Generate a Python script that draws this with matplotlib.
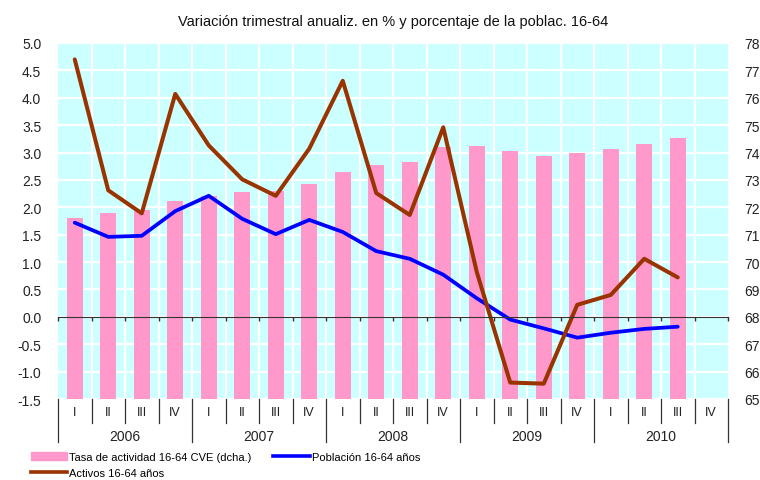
import matplotlib
matplotlib.use('Agg')
import matplotlib.pyplot as plt
import matplotlib.transforms as mtransforms
from matplotlib.patches import Patch
from matplotlib.lines import Line2D
import numpy as np

plt.rcParams['font.family'] = ['Liberation Sans', 'DejaVu Sans']

# data
years = ['2006', '2007', '2008', '2009', '2010']
quarters = ['I', 'II', 'III', 'IV'] * 5
tasa = [71.6, 71.8, 71.9, 72.24, 72.4, 72.55, 72.6, 72.86, 73.3, 73.55,
        73.66, 74.2, 74.24, 74.06, 73.88, 73.98, 74.14, 74.32, 74.54]
poblacion = [1.72, 1.46, 1.48, 1.93, 2.21, 1.79, 1.51, 1.77, 1.55, 1.20,
             1.06, 0.77, 0.34, -0.05, -0.21, -0.38, -0.29, -0.22, -0.18]
activos = [4.70, 2.31, 1.89, 4.07, 3.13, 2.51, 2.21, 3.07, 4.31, 2.26,
           1.86, 3.46, 0.82, -1.20, -1.22, 0.22, 0.40, 1.06, 0.72]
left_ticks = np.arange(-1.5, 5.01, 0.5)
right_ticks = np.arange(65, 79, 1)

W, H = 760, 481
fig = plt.figure(figsize=(W / 100, H / 100), dpi=100)
ax = fig.add_axes([58 / W, 1 - 400 / H, 670 / W, 356 / H])
ax2 = ax.twinx()
ax.set_zorder(ax2.get_zorder() + 1)
ax.patch.set_visible(False)
ax2.patch.set_visible(True)
ax2.set_facecolor('#CCFFFF')

n = len(quarters)
x = np.arange(n)

# bars on right axis
ax2.bar(x[:len(tasa)], np.array(tasa) - 65, bottom=65, width=0.48,
        color='#FF99CC', zorder=2)
ax2.set_ylim(65, 78)
ax2.set_yticks(right_ticks)
ax2.set_yticklabels([str(v) for v in right_ticks])
ax2.grid(axis='y', color='white', lw=1.6, zorder=1)
for b in np.arange(0.5, n - 0.5, 1):
    ax2.axvline(b, color='white', lw=1.6, zorder=1)
ax2.set_axisbelow(True)

# lines on left axis
ax.plot(x[:len(poblacion)], poblacion, color='#0000FF', lw=2.7, solid_capstyle='round')
ax.plot(x[:len(activos)], activos, color='#993300', lw=2.9, solid_capstyle='round')
ax.set_ylim(-1.5, 5.0)
ax.set_xlim(-0.5, n - 0.5)
ax.set_yticks(left_ticks)
ax.set_yticklabels(['%.1f' % v for v in left_ticks])

# zero line with small ticks at category boundaries
ax.set_xticks(np.arange(-0.5, n, 1))
ax.set_xticklabels([])
ax.spines['bottom'].set_position(('data', 0))
ax.spines['bottom'].set_color('#333333')
ax.tick_params(axis='x', direction='out', length=3, color='#333333', width=1)
for a in (ax, ax2):
    for s in ['top', 'left', 'right']:
        a.spines[s].set_visible(False)
ax2.spines['bottom'].set_visible(False)
ax2.tick_params(axis='x', length=0)
ax.tick_params(axis='y', length=0, labelsize=10, colors='#222222', pad=12)
ax2.tick_params(axis='y', length=0, labelsize=10, colors='#222222', pad=12)

# category labels below the plot
trans = mtransforms.blended_transform_factory(ax.transData, ax.transAxes)
px = 1 / 356.0
for i, q in enumerate(quarters):
    ax.text(i, -13 * px, q, transform=trans, ha='center', va='center', fontsize=9, color='#222222')
for b in np.arange(-0.5, n, 1):
    if int(b + 0.5) % 4 == 0:
        ax.plot([b, b], [0, -43 * px], transform=trans, color='#333333', lw=0.9, clip_on=False)
    else:
        ax.plot([b, b], [0, -24 * px], transform=trans, color='#333333', lw=0.9, clip_on=False)
for k, yr in enumerate(years):
    ax.text(4 * k + 1.5, -37 * px, yr, transform=trans, ha='center', va='center', fontsize=10, color='#222222')

ax.set_title('Variación trimestral anualiz. en % y porcentaje de la poblac. 16-64',
             fontsize=10.5, color='#111111', pad=13)

handles = [Patch(color='#FF99CC', label='Tasa de actividad 16-64 CVE (dcha.)'),
           Line2D([], [], color='#993300', lw=2.6, label='Activos 16-64 años'),
           Line2D([], [], color='#0000FF', lw=2.6, label='Población 16-64 años')]
fig.legend(handles=handles, loc='upper left', bbox_to_anchor=(25 / W, 1 - 447 / H),
           ncol=2, frameon=False, fontsize=8, handlelength=3.3, handleheight=0.8,
           handletextpad=0.15, columnspacing=2.0, labelspacing=0.55, borderpad=0)

fig.savefig('out.png', dpi=100)
